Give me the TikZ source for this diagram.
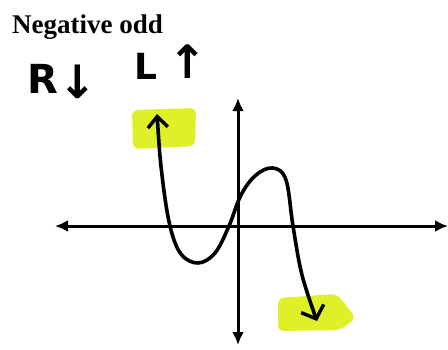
\documentclass[tikz,border=0pt]{standalone}
\usepackage{fontspec}
\setmainfont{Liberation Serif}
\newfontfamily\handfont{DejaVu Sans}
\usetikzlibrary{arrows.meta}
\definecolor{hilite}{RGB}{222,240,40}
\tikzset{
  axis/.style={line width=3pt, {Latex[length=13pt,width=12pt]}-{Latex[length=13pt,width=12pt]}},
  curve/.style={line width=3.6pt, line cap=round, line join=round, {Straight Barb[length=11pt,width=20pt,line width=3.4pt]}-{Straight Barb[length=11pt,width=24pt,line width=3.4pt]}},
  hl/.style={fill=hilite, draw=none, rounded corners=6pt},
  hand/.style={inner sep=0pt}
}
\begin{document}
\begin{tikzpicture}[x=1pt,y=-1pt]
\useasboundingbox (0,0) rectangle (448,349);
\fill[white] (0,0) rectangle (448,349);
% highlights
\fill[hl] (132,110) -- (196,108) -- (195,146) -- (133,149) -- cycle;
\fill[hl] (278,298) -- (337,294) -- (356,318) -- (340,330) -- (278,331) -- cycle;
% title
\node[anchor=base west, font=\bfseries\fontsize{27}{30}\selectfont, inner sep=0pt] (title) at (12,33) {Negative odd};
% handwritten labels
\node[hand, font=\handfont\bfseries\fontsize{40}{40}\selectfont] (R) at (43,79) {R};
\node[hand, font=\handfont\bfseries\fontsize{46}{46}\selectfont] (Rd) at (78,82) {↓};
\node[hand, font=\handfont\bfseries\fontsize{36}{36}\selectfont] (L) at (146,66) {L};
\node[hand, font=\handfont\bfseries\fontsize{46}{46}\selectfont] (Lu) at (188,62) {↑};
% axes
\coordinate (xl) at (55,226);
\coordinate (xr) at (448,226);
\coordinate (yt) at (238,98);
\coordinate (yb) at (238,345);
\draw[axis] (xl) -- (xr);
\draw[axis] (yt) -- (yb);
% curve
\coordinate (c0) at (157,114);
\coordinate (c9) at (317,321);
\draw[curve] plot[smooth, tension=0.6] coordinates {(c0) (162,175) (170,226) (181,254) (198,263) (215,253) (229,226) (241,195) (256,175) (273,168) (286,180) (293,226) (302,275) (c9)};
\end{tikzpicture}
\end{document}
